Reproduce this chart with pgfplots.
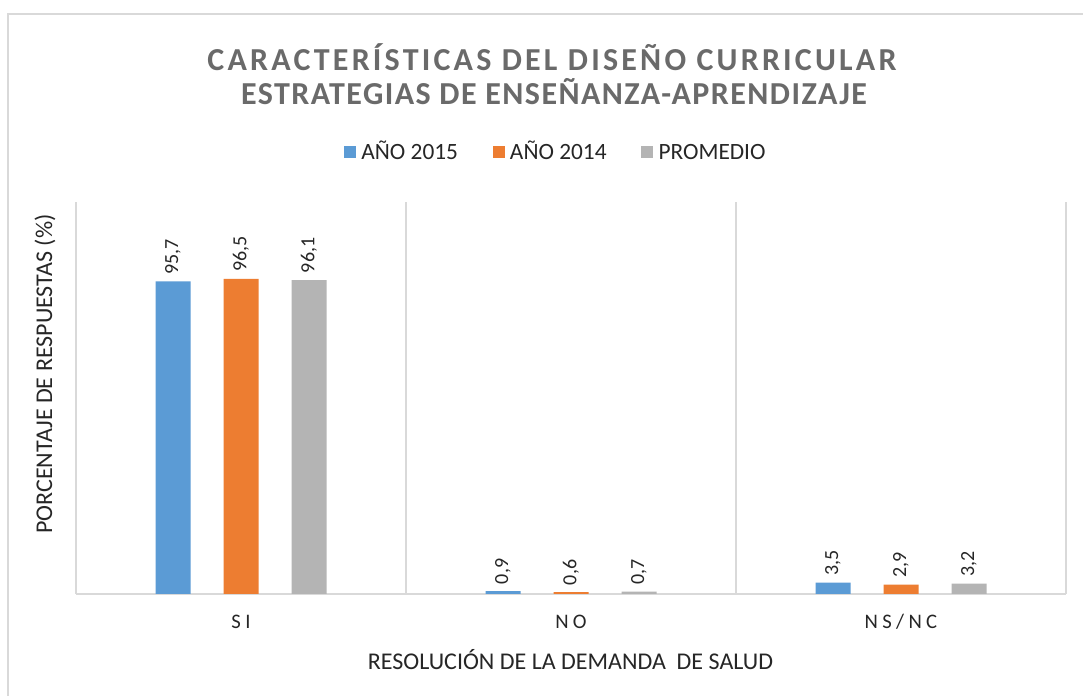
\documentclass[border=0pt]{standalone}
\usepackage{pgfplots}
\pgfplotsset{compat=1.18}
\usepackage{fontspec}
\setmainfont{Carlito}
\newfontfamily\titlefont[LetterSpace=10]{Carlito}
\newfontfamily\titlefontb[LetterSpace=4.5]{Carlito}
\newfontfamily\tickfont[LetterSpace=21]{Carlito}
\definecolor{cblue}{HTML}{5B9BD5}
\definecolor{corange}{HTML}{ED7D31}
\definecolor{cgray}{HTML}{B4B4B4}
\definecolor{ctitle}{HTML}{6A6A6A}
\definecolor{ctext}{HTML}{262626}
\definecolor{cline}{HTML}{D9D9D9}
\begin{document}
\begin{tikzpicture}[x=0.75pt,y=0.75pt]
\useasboundingbox (0,0) rectangle (1083,696);
\fill[white] (0,0) rectangle (1083,696);
\draw[cline,line width=1.5pt] (8,0) -- (8,682) -- (1083,682);
\node[font=\titlefont\bfseries\fontsize{24}{28}\selectfont,text=ctitle] at (552,639) {CARACTERÍSTICAS DEL DISEÑO CURRICULAR};
\node[font=\titlefontb\bfseries\fontsize{24}{28}\selectfont,text=ctitle] at (554,604) {ESTRATEGIAS DE ENSEÑANZA-APRENDIZAJE};
\begin{axis}[
  at={(57pt,76.5pt)}, anchor=south west,
  scale only axis, width=742.5pt, height=294pt,
  ybar=24.75pt, bar width=26.25pt,
  xmin=-0.5, xmax=2.5, ymin=0, ymax=120,
  xtick={0,1,2}, xticklabels={SI,NO,NS/NC},
  minor xtick={-0.5,0.5,1.5,2.5},
  xminorgrids=true, minor grid style={cline,line width=1.2pt},
  major tick length=0pt, minor tick length=0pt,
  ytick=\empty,
  axis y line=none,
  axis x line*=bottom,
  x axis line style={cline,line width=1.2pt,-},
  xticklabel style={font=\tickfont\fontsize{15.5}{18}\selectfont,text=ctext,anchor=base,yshift=-26pt},
  xlabel={RESOLUCIÓN DE LA DEMANDA\ \ DE SALUD},
  xlabel style={font=\fontsize{18}{21}\selectfont,text=ctext,at={(axis description cs:0.4995,0)},anchor=center,yshift=-49pt},
  nodes near coords,
  nodes near coords style={rotate=90,anchor=west,inner sep=5pt,font=\fontsize{15}{18}\selectfont,text=ctext,
    /pgf/number format/.cd,use comma,fixed,fixed zerofill,precision=1,assume math mode=true},
  every axis plot/.append style={draw=none},
  legend style={at={(axis description cs:0.485,1.1223)},anchor=center,draw=none,fill=none,
    legend columns=3,font=\fontsize{17.5}{21}\selectfont,text=ctext,
    nodes={text height=0.72em,text depth=0.05em},
    /tikz/every even column/.append style={column sep=24pt},
    /tikz/every odd column/.append style={column sep=2pt}},
  legend image code/.code={\fill[#1] (0pt,-2.25pt) rectangle (9pt,6.75pt);},
  clip=false,
]
\addplot[fill=cblue] coordinates {(0,95.7) (1,0.9) (2,3.5)};
\addplot[fill=corange] coordinates {(0,96.5) (1,0.6) (2,2.9)};
\addplot[fill=cgray] coordinates {(0,96.1) (1,0.7) (2,3.2)};
\legend{AÑO 2015,AÑO 2014,PROMEDIO}
\end{axis}
\node[rotate=90,font=\fontsize{18}{21}\selectfont,text=ctext] at (45,322) {PORCENTAJE DE RESPUESTAS (\%)};
\end{tikzpicture}
\end{document}
